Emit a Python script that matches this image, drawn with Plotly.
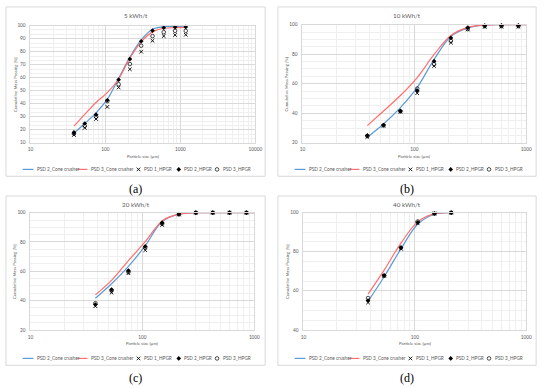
import math
import plotly.graph_objects as go

W, H = 550, 388

# ---------------- text ----------------
SERIES = ["PSD 2_Cone crusher", "PSD 3_Cone crusher", "PSD 1_HPGR", "PSD 2_HPGR", "PSD 3_HPGR"]
TITLES = ["5 kWh/t", "10 kWh/t", "20 kWh/t", "40 kWh/t"]
CAPTIONS = ["(a)", "(b)", "(c)", "(d)"]
X_TITLE = "Particle size (µm)"
Y_TITLE = "Cumulative Mass Passing [%]"

# ---------------- data ----------------
# (a) 5 kWh/t
A_CONE_SIZE = [38, 53, 75, 106, 150, 212, 300, 425, 600, 850, 1180]
A_CONE_PSD2 = [17.3, 24.8, 33.0, 43.5, 59.5, 75.8, 89.0, 97.2, 99.2, 99.4, 99.7]
A_CONE_PSD3 = [22.8, 31.9, 41.0, 48.5, 59.0, 75.0, 87.6, 95.2, 98.0, 98.4, 98.7]
A_HPGR_SIZE = [38, 53, 75, 106, 150, 212, 300, 425, 600, 850, 1180]
A_HPGR_PSD1 = [16.0, 21.5, 28.3, 37.6, 52.5, 66.5, 80.0, 88.4, 92.0, 92.8, 93.0]
A_HPGR_PSD2 = [18.0, 24.8, 31.6, 42.7, 58.5, 74.3, 88.0, 96.2, 98.4, 98.9, 99.0]
A_HPGR_PSD3 = [17.0, 23.0, 30.0, 42.0, 55.0, 70.5, 84.6, 92.0, 95.0, 96.0, 96.0]
A_XTICKS = [10, 100, 1000, 10000]
A_XLABELS = ["10", "100", "1000", "10000"]
A_YTICKS = [10, 20, 30, 40, 50, 60, 70, 80, 90, 100]

# (b) 10 kWh/t
B_CONE_SIZE = [38, 53, 75, 106, 150, 212, 300, 425, 600, 850, 1000]
B_CONE_PSD2 = [23.8, 32.7, 43.8, 57.5, 76.5, 92.0, 97.8, 99.7, 100, 100, 100]
B_CONE_PSD3 = [31.6, 41.5, 52.0, 64.2, 79.8, 92.7, 98.2, 99.8, 100, 100, 100]
B_HPGR_SIZE = [38, 53, 75, 106, 150, 212, 300, 425, 600, 850]
B_HPGR_PSD1 = [24.0, 31.5, 41.0, 53.6, 72.0, 87.8, 96.7, 98.5, 98.6, 98.6]
B_HPGR_PSD2 = [25.0, 32.0, 41.6, 55.3, 75.3, 91.0, 98.0, 99.4, 99.5, 99.5]
B_HPGR_PSD3 = [24.5, 31.8, 41.3, 56.7, 73.3, 89.0, 97.0, 99.0, 99.0, 99.0]
B_XTICKS = [10, 100, 1000]
B_XLABELS = ["10", "100", "1000"]
B_YTICKS = [20, 40, 60, 80, 100]

# (c) 20 kWh/t
C_CONE_SIZE = [38, 53, 75, 106, 150, 212, 300, 425, 600, 850, 1000]
C_CONE_PSD2 = [41.6, 51.5, 63.3, 77.5, 94.0, 99.0, 100, 100, 100, 100, 100]
C_CONE_PSD3 = [43.9, 53.8, 67.3, 80.2, 94.4, 99.0, 100, 100, 100, 100, 100]
C_HPGR_SIZE = [38, 53, 75, 106, 150, 212, 300, 425, 600, 850]
C_HPGR_PSD1 = [36.2, 45.4, 58.7, 74.4, 91.6, 98.8, 100, 100, 100, 100]
C_HPGR_PSD2 = [37.3, 47.5, 60.5, 77.0, 93.2, 99.0, 100, 100, 100, 100]
C_HPGR_PSD3 = [38.2, 46.8, 59.4, 76.2, 92.4, 98.9, 100, 100, 100, 100]
C_XTICKS = [10, 100, 1000]
C_XLABELS = ["10", "100", "1000"]
C_YTICKS = [20, 40, 60, 80, 100]

# (d) 40 kWh/t
D_CONE_SIZE = [38, 53, 75, 106, 150, 212]
D_CONE_PSD2 = [54.6, 67.2, 81.5, 94.1, 99.2, 100]
D_CONE_PSD3 = [58.3, 70.6, 84.4, 95.3, 99.5, 100]
D_HPGR_SIZE = [38, 53, 75, 106, 150, 212]
D_HPGR_PSD1 = [54.0, 67.7, 81.5, 94.5, 99.6, 100]
D_HPGR_PSD2 = [55.0, 67.9, 82.2, 95.0, 99.6, 100]
D_HPGR_PSD3 = [56.3, 67.7, 82.0, 95.5, 99.5, 100]
D_XTICKS = [10, 100, 1000]
D_XLABELS = ["10", "100", "1000"]
D_YTICKS = [40, 60, 80, 100]

PANELS = [
    dict(cs=A_CONE_SIZE, c2=A_CONE_PSD2, c3=A_CONE_PSD3, hs=A_HPGR_SIZE,
         h1=A_HPGR_PSD1, h2=A_HPGR_PSD2, h3=A_HPGR_PSD3,
         xt=A_XTICKS, xl=A_XLABELS, yt=A_YTICKS, yminor=10 / 3),
    dict(cs=B_CONE_SIZE, c2=B_CONE_PSD2, c3=B_CONE_PSD3, hs=B_HPGR_SIZE,
         h1=B_HPGR_PSD1, h2=B_HPGR_PSD2, h3=B_HPGR_PSD3,
         xt=B_XTICKS, xl=B_XLABELS, yt=B_YTICKS, yminor=5),
    dict(cs=C_CONE_SIZE, c2=C_CONE_PSD2, c3=C_CONE_PSD3, hs=C_HPGR_SIZE,
         h1=C_HPGR_PSD1, h2=C_HPGR_PSD2, h3=C_HPGR_PSD3,
         xt=C_XTICKS, xl=C_XLABELS, yt=C_YTICKS, yminor=5),
    dict(cs=D_CONE_SIZE, c2=D_CONE_PSD2, c3=D_CONE_PSD3, hs=D_HPGR_SIZE,
         h1=D_HPGR_PSD1, h2=D_HPGR_PSD2, h3=D_HPGR_PSD3,
         xt=D_XTICKS, xl=D_XLABELS, yt=D_YTICKS, yminor=5),
]

# ---------------- geometry & style (pixels) ----------------
BOXES = [(3, 4, 267, 176), (280, 4, 543, 176), (3, 196, 267, 368), (280, 196, 543, 368)]
AREAS = [(28, 23, 257, 142), (305, 22, 533, 142), (28, 213, 256, 332), (306, 213, 533, 332)]

BLUE = "#5B9BD5"
RED = "#FF6F6F"
GRID = "#D9D9D9"
MINOR = "#EFEFEF"
TXT = "#595959"
FONT = "Lato"

def px(x):
    return x / W

def py(y):
    return 1 - y / H

fig = go.Figure()
annotations = []
shapes = []

MARKERS = [
    dict(symbol="x-thin", size=3.6, color="black", line=dict(width=0.9, color="black")),
    dict(symbol="diamond", size=3.6, color="black", line=dict(width=0)),
    dict(symbol="circle-open", size=3.6, color="black", line=dict(width=0.7, color="#333333")),
]

for i, p in enumerate(PANELS):
    n = i + 1
    xa = "x" if n == 1 else f"x{n}"
    ya = "y" if n == 1 else f"y{n}"
    for vals, col, name in ((p["c2"], BLUE, SERIES[0]), (p["c3"], RED, SERIES[1])):
        fig.add_trace(go.Scatter(x=p["cs"], y=vals, mode="lines", name=name,
                                 line=dict(color=col, width=1.2, shape="spline", smoothing=1),
                                 xaxis=xa, yaxis=ya, showlegend=False, hoverinfo="skip"))
    for vals, mk, name in ((p["h1"], MARKERS[0], SERIES[2]), (p["h2"], MARKERS[1], SERIES[3]),
                           (p["h3"], MARKERS[2], SERIES[4])):
        fig.add_trace(go.Scatter(x=p["hs"], y=vals, mode="markers", name=name, marker=mk,
                                 xaxis=xa, yaxis=ya, showlegend=False, cliponaxis=False,
                                 hoverinfo="skip"))

    l, t, r, b = AREAS[i]
    xmin, xmax = p["xt"][0], p["xt"][-1]
    minor_x = [k * 10 ** d for d in range(int(round(math.log10(xmin))), int(round(math.log10(xmax))))
               for k in range(2, 10)]
    ymin, ymax = p["yt"][0], p["yt"][-1]
    fig.layout[f"xaxis{'' if n == 1 else n}"] = dict(
        type="log", domain=[px(l), px(r)], anchor=ya,
        range=[math.log10(xmin), math.log10(xmax)],
        tickmode="array", tickvals=p["xt"], ticktext=p["xl"],
        showgrid=True, gridcolor=GRID, gridwidth=1, zeroline=False,
        showline=True, linecolor=GRID, linewidth=1, mirror=True,
        ticks="", ticklabelstandoff=2,
        tickfont=dict(family=FONT, size=4.7, color=TXT),
        minor=dict(tickmode="array", tickvals=minor_x, showgrid=True, gridcolor=MINOR, gridwidth=1, ticks=""),
        fixedrange=True,
    )
    fig.layout[f"yaxis{'' if n == 1 else n}"] = dict(
        domain=[py(b), py(t)], anchor=xa, range=[ymin, ymax],
        tickmode="array", tickvals=p["yt"], ticktext=[str(v) for v in p["yt"]],
        showgrid=True, gridcolor=GRID, gridwidth=1, zeroline=False,
        showline=True, linecolor=GRID, linewidth=1, mirror=True,
        ticks="", ticklabelstandoff=3,
        tickfont=dict(family=FONT, size=4.7, color=TXT),
        minor=dict(tick0=ymin, dtick=p["yminor"], showgrid=True, gridcolor=MINOR, gridwidth=1, ticks=""),
        fixedrange=True,
    )

    bl, bt, br, bb = BOXES[i]
    shapes.append(dict(type="rect", xref="paper", yref="paper", x0=px(bl), x1=px(br), y0=py(bb), y1=py(bt),
                       line=dict(color=GRID, width=1), fillcolor="white", layer="below"))
    cx = (bl + br) / 2
    annotations.append(dict(text=TITLES[i], x=px(cx), y=py(bt + 8.7), xref="paper", yref="paper",
                            showarrow=False, xanchor="center", yanchor="middle",
                            font=dict(family=FONT, size=6.3, color=TXT)))
    annotations.append(dict(text=CAPTIONS[i], x=px(cx), y=py(bb + 12.5), xref="paper", yref="paper",
                            showarrow=False, xanchor="center", yanchor="middle",
                            font=dict(family="Liberation Serif", size=12, color="black")))
    annotations.append(dict(text=X_TITLE, x=px((l + r) / 2), y=py(b + 14), xref="paper", yref="paper",
                            showarrow=False, xanchor="center", yanchor="middle",
                            font=dict(family=FONT, size=4.3, color=TXT)))
    annotations.append(dict(text=Y_TITLE, x=px(l - 16), y=py((t + b) / 2), xref="paper", yref="paper",
                            showarrow=False, xanchor="center", yanchor="middle", textangle=-90,
                            font=dict(family=FONT, size=4.3, color=TXT)))

    # legend key (drawn manually to reproduce the compact Excel legend)
    ly = bb - 7
    fig.add_trace(go.Scatter(x=[bl + 17, bl + 28], y=[ly, ly], mode="lines", line=dict(color=BLUE, width=1.2),
                             xaxis="x5", yaxis="y5", showlegend=False, hoverinfo="skip"))
    fig.add_trace(go.Scatter(x=[bl + 73, bl + 83], y=[ly, ly], mode="lines", line=dict(color=RED, width=1.2),
                             xaxis="x5", yaxis="y5", showlegend=False, hoverinfo="skip"))
    for mx, mk in zip((bl + 135, bl + 176, bl + 215), MARKERS):
        fig.add_trace(go.Scatter(x=[mx], y=[ly], mode="markers", marker=mk, xaxis="x5", yaxis="y5",
                                 showlegend=False, hoverinfo="skip", cliponaxis=False))
    for tx, name in zip((bl + 29.5, bl + 84.5, bl + 138.5, bl + 179.5, bl + 219), SERIES):
        annotations.append(dict(text=name, x=px(tx), y=py(ly), xref="paper", yref="paper",
                                showarrow=False, xanchor="left", yanchor="middle",
                                font=dict(family=FONT, size=4.7, color=TXT)))

fig.update_layout(
    xaxis5=dict(domain=[0, 1], range=[0, W], visible=False, fixedrange=True, anchor="y5"),
    yaxis5=dict(domain=[0, 1], range=[H, 0], visible=False, fixedrange=True, anchor="x5"),
)

fig.update_layout(
    width=W, height=H, margin=dict(l=0, r=0, t=0, b=0),
    paper_bgcolor="white", plot_bgcolor="rgba(0,0,0,0)",
    showlegend=False, annotations=annotations, shapes=shapes,
    font=dict(family=FONT, color=TXT),
)

# remove the browser's default page margin so the figure sits at the window origin
fig.write_html("out.html", config={"displayModeBar": False},
               post_script="document.body.style.margin='0';document.body.style.overflow='hidden';")
